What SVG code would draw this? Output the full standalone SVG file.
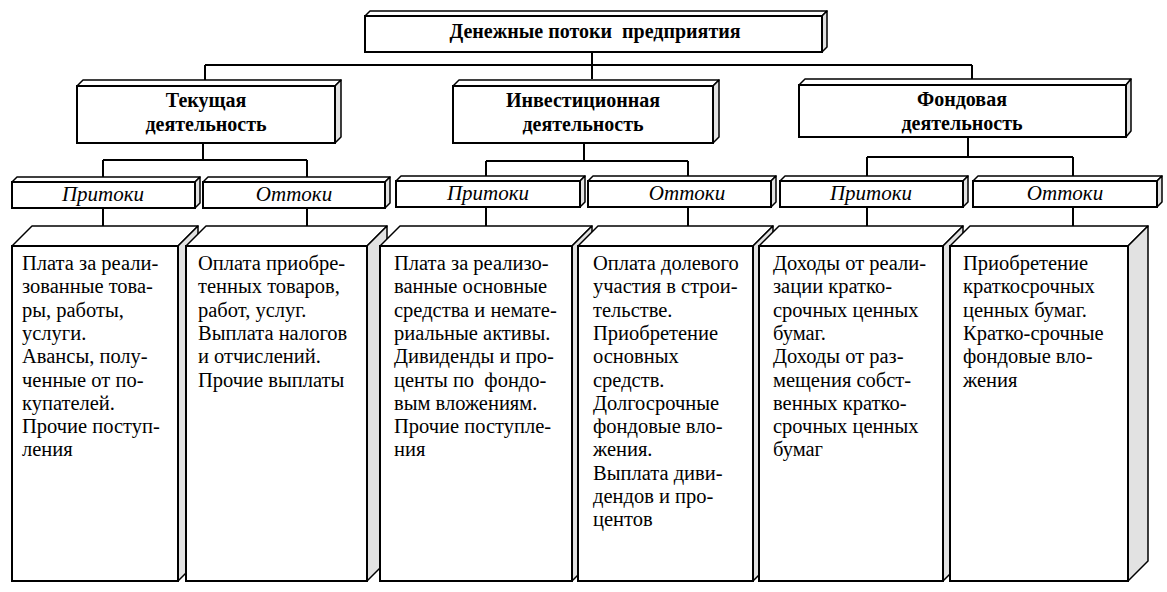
<svg xmlns="http://www.w3.org/2000/svg" width="1167" height="592" viewBox="0 0 1167 592">
<style>
.fr{fill:#fff;stroke:#000;stroke-width:2}
.tp{fill:#fff;stroke:#000;stroke-width:1.5;stroke-linejoin:round}
.sd{fill:#e2e2e2;stroke:#000;stroke-width:1.5;stroke-linejoin:round}
.cn{stroke:#000;stroke-width:2;fill:none}
.hb{font-family:"Liberation Serif","Times New Roman",serif;font-weight:bold;font-size:20px;text-anchor:middle;fill:#000}
.it{font-family:"Liberation Serif","Times New Roman",serif;font-style:italic;font-size:21px;text-anchor:middle;fill:#000}
.bd{font-family:"Liberation Serif","Times New Roman",serif;font-size:20.5px;fill:#000}
</style>
<rect width="1167" height="592" fill="#fff"/>
<g id="connectors">
<path class="cn" d="M592 52V79M205 65H972M205 65V80M972 65V79"/>
<path class="cn" d="M203 143V160M103 160H307M103 160V177M307 160V177M103 208V226M307 208V226"/>
<path class="cn" d="M584 143V161M486 161H688M486 161V176M688 161V176M486 207V226M688 207V226"/>
<path class="cn" d="M968 137V157M867 157H1073M867 157V176M1073 157V176M867 207V226M1073 207V226"/>
</g>
<g id="root">
<polygon class="tp" points="365,16 370,11 827,11 822,16"/>
<polygon class="sd" points="822,16 827,11 827,47 822,52"/>
<rect class="fr" x="365" y="16" width="457" height="36"/>
<text class="hb" x="595" y="38" xml:space="preserve">Денежные потоки  предприятия</text>
</g>
<g id="current">
<polygon class="tp" points="77,86 83,80 341,80 335,86"/>
<polygon class="sd" points="335,86 341,80 341,137 335,143"/>
<rect class="fr" x="77" y="86" width="258" height="57"/>
<text class="hb" x="206" y="107">Текущая</text>
<text class="hb" x="206" y="131">деятельность</text>
</g>
<g id="investment">
<polygon class="tp" points="453,86 459,80 719,80 713,86"/>
<polygon class="sd" points="713,86 719,80 719,137 713,143"/>
<rect class="fr" x="453" y="86" width="260" height="57"/>
<text class="hb" x="583" y="107">Инвестиционная</text>
<text class="hb" x="583" y="131">деятельность</text>
</g>
<g id="financial">
<polygon class="tp" points="799,85 805,79 1131,79 1126,85"/>
<polygon class="sd" points="1126,85 1131,79 1131,131 1126,137"/>
<rect class="fr" x="799" y="85" width="327" height="52"/>
<text class="hb" x="962" y="106">Фондовая</text>
<text class="hb" x="962" y="130">деятельность</text>
</g>
<g id="cur-in">
<polygon class="tp" points="12,182 17,177 200,177 195,182"/>
<polygon class="sd" points="195,182 200,177 200,203 195,208"/>
<rect class="fr" x="12" y="182" width="183" height="26"/>
<text class="it" x="103" y="201">Притоки</text>
</g>
<g id="cur-out">
<polygon class="tp" points="203,182 208,177 390,177 385,182"/>
<polygon class="sd" points="385,182 390,177 390,203 385,208"/>
<rect class="fr" x="203" y="182" width="182" height="26"/>
<text class="it" x="294" y="201">Оттоки</text>
</g>
<g id="inv-in">
<polygon class="tp" points="396,181 401,176 585,176 580,181"/>
<polygon class="sd" points="580,181 585,176 585,202 580,207"/>
<rect class="fr" x="396" y="181" width="184" height="26"/>
<text class="it" x="488" y="200">Притоки</text>
</g>
<g id="inv-out">
<polygon class="tp" points="588,181 593,176 776,176 771,181"/>
<polygon class="sd" points="771,181 776,176 776,202 771,207"/>
<rect class="fr" x="588" y="181" width="183" height="26"/>
<text class="it" x="687" y="200">Оттоки</text>
</g>
<g id="fin-in">
<polygon class="tp" points="780,181 785,176 968,176 963,181"/>
<polygon class="sd" points="963,181 968,176 968,202 963,207"/>
<rect class="fr" x="780" y="181" width="183" height="26"/>
<text class="it" x="871" y="200">Притоки</text>
</g>
<g id="fin-out">
<polygon class="tp" points="973,181 978,176 1162,176 1157,181"/>
<polygon class="sd" points="1157,181 1162,176 1162,202 1157,207"/>
<rect class="fr" x="973" y="181" width="184" height="26"/>
<text class="it" x="1065" y="200">Оттоки</text>
</g>
<g id="cur-in-list">
<polygon class="tp" points="12,246 32,226 198,226 178,246"/>
<polygon class="sd" points="178,246 198,226 198,561 178,581"/>
<rect class="fr" x="12" y="246" width="166" height="335"/>
<text class="bd" x="22" y="270"><tspan x="22">Плата за реали-</tspan><tspan x="22" dy="23.3">зованные това-</tspan><tspan x="22" dy="23.3">ры, работы,</tspan><tspan x="22" dy="23.3">услуги.</tspan><tspan x="22" dy="23.3">Авансы, полу-</tspan><tspan x="22" dy="23.3">ченные от по-</tspan><tspan x="22" dy="23.3">купателей.</tspan><tspan x="22" dy="23.3">Прочие поступ-</tspan><tspan x="22" dy="23.3">ления</tspan></text>
</g>
<g id="cur-out-list">
<polygon class="tp" points="186,246 206,226 387,226 367,246"/>
<polygon class="sd" points="367,246 387,226 387,561 367,581"/>
<rect class="fr" x="186" y="246" width="181" height="335"/>
<text class="bd" x="198" y="270"><tspan x="198">Оплата приобре-</tspan><tspan x="198" dy="23.3">тенных товаров,</tspan><tspan x="198" dy="23.3">работ, услуг.</tspan><tspan x="198" dy="23.3">Выплата налогов</tspan><tspan x="198" dy="23.3">и отчислений.</tspan><tspan x="198" dy="23.3">Прочие выплаты</tspan></text>
</g>
<g id="inv-in-list">
<polygon class="tp" points="380,246 400,226 592,226 572,246"/>
<polygon class="sd" points="572,246 592,226 592,561 572,581"/>
<rect class="fr" x="380" y="246" width="192" height="335"/>
<text class="bd" x="394" y="270"><tspan x="394">Плата за реализо-</tspan><tspan x="394" dy="23.3">ванные основные</tspan><tspan x="394" dy="23.3">средства и немате-</tspan><tspan x="394" dy="23.3">риальные активы.</tspan><tspan x="394" dy="23.3">Дивиденды и про-</tspan><tspan x="394" dy="23.3" xml:space="preserve">центы по  фондо-</tspan><tspan x="394" dy="23.3">вым вложениям.</tspan><tspan x="394" dy="23.3">Прочие поступле-</tspan><tspan x="394" dy="23.3">ния</tspan></text>
</g>
<g id="inv-out-list">
<polygon class="tp" points="578,246 598,226 773,226 753,246"/>
<polygon class="sd" points="753,246 773,226 773,561 753,581"/>
<rect class="fr" x="578" y="246" width="175" height="335"/>
<text class="bd" x="593" y="270"><tspan x="593">Оплата долевого</tspan><tspan x="593" dy="23.3">участия в строи-</tspan><tspan x="593" dy="23.3">тельстве.</tspan><tspan x="593" dy="23.3">Приобретение</tspan><tspan x="593" dy="23.3">основных</tspan><tspan x="593" dy="23.3">средств.</tspan><tspan x="593" dy="23.3">Долгосрочные</tspan><tspan x="593" dy="23.3">фондовые вло-</tspan><tspan x="593" dy="23.3">жения.</tspan><tspan x="593" dy="23.3">Выплата диви-</tspan><tspan x="593" dy="23.3">дендов и про-</tspan><tspan x="593" dy="23.3">центов</tspan></text>
</g>
<g id="fin-in-list">
<polygon class="tp" points="759,246 779,226 963,226 943,246"/>
<polygon class="sd" points="943,246 963,226 963,561 943,581"/>
<rect class="fr" x="759" y="246" width="184" height="335"/>
<text class="bd" x="773" y="270"><tspan x="773">Доходы от реали-</tspan><tspan x="773" dy="23.3">зации кратко-</tspan><tspan x="773" dy="23.3">срочных ценных</tspan><tspan x="773" dy="23.3">бумаг.</tspan><tspan x="773" dy="23.3">Доходы от раз-</tspan><tspan x="773" dy="23.3">мещения собст-</tspan><tspan x="773" dy="23.3">венных кратко-</tspan><tspan x="773" dy="23.3">срочных ценных</tspan><tspan x="773" dy="23.3">бумаг</tspan></text>
</g>
<g id="fin-out-list">
<polygon class="tp" points="950,246 970,226 1148,226 1128,246"/>
<polygon class="sd" points="1128,246 1148,226 1148,561 1128,581"/>
<rect class="fr" x="950" y="246" width="178" height="335"/>
<text class="bd" x="963" y="270"><tspan x="963">Приобретение</tspan><tspan x="963" dy="23.3">краткосрочных</tspan><tspan x="963" dy="23.3">ценных бумаг.</tspan><tspan x="963" dy="23.3">Кратко-срочные</tspan><tspan x="963" dy="23.3">фондовые вло-</tspan><tspan x="963" dy="23.3">жения</tspan></text>
</g>
</svg>
